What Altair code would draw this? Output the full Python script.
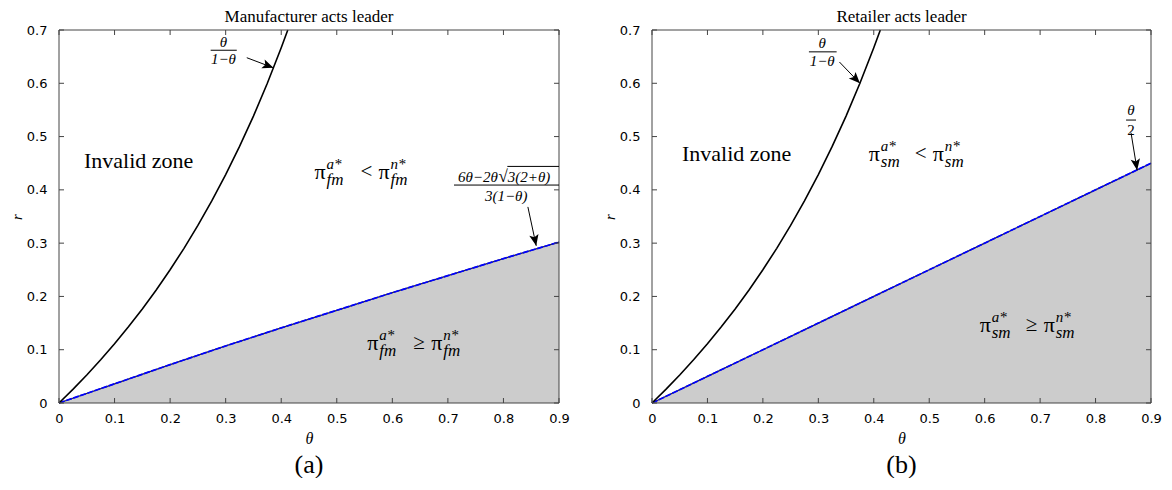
import math
import altair as alt
import pandas as pd

# ---------------- data ----------------
theta_curve = [0, 0.025, 0.05, 0.075, 0.10, 0.125, 0.15, 0.175, 0.20, 0.225, 0.25,
               0.275, 0.30, 0.325, 0.35, 0.375, 0.40, 0.4118]
r_curve = [0, 0.0256, 0.0526, 0.0811, 0.1111, 0.1429, 0.1765, 0.2121, 0.25, 0.2903,
           0.3333, 0.3793, 0.4286, 0.4815, 0.5385, 0.60, 0.6667, 0.70]

theta_line = [0, 0.1, 0.2, 0.3, 0.4, 0.5, 0.6, 0.7, 0.8, 0.9]
r_fm = [0, 0.036, 0.072, 0.107, 0.141, 0.174, 0.207, 0.239, 0.271, 0.302]
r_sm = [0, 0.05, 0.10, 0.15, 0.20, 0.25, 0.30, 0.35, 0.40, 0.45]

x_ticks = [0, 0.1, 0.2, 0.3, 0.4, 0.5, 0.6, 0.7, 0.8, 0.9]
y_ticks = [0, 0.1, 0.2, 0.3, 0.4, 0.5, 0.6, 0.7]

titles = ["Manufacturer acts leader", "Retailer acts leader"]
panel_labels = ["(a)", "(b)"]
subs = ["fm", "sm"]

# ---------------- layout ----------------
H = 373
WIDTHS = [500, 499]
XMAX, YMAX = 0.9, 0.7
SERIF = "Liberation Serif"
SANS = "DejaVu Sans"
FRAME = "#444444"

# annotation anchors (data coordinates)
ANN = [
    dict(invalid=(0.045, 0.455), top=(0.46, 0.434), bottom=(0.555, 0.113),
         frac=dict(cx=0.296, num=0.678, bar=0.662, den=0.645, x1=0.273, x2=0.320),
         arrow1=(0.338, 0.648, 0.386, 0.629),
         arrow2=(0.844, 0.368, 0.859, 0.295)),
    dict(invalid=(0.054, 0.468), top=(0.391, 0.468), bottom=(0.591, 0.146),
         frac=dict(cx=0.307, num=0.675, bar=0.659, den=0.642, x1=0.283, x2=0.333),
         arrow1=(0.338, 0.640, 0.375, 0.600),
         arrow2=(0.864, 0.507, 0.875, 0.437)),
]

ARROW_PATH = "M0,0L-0.42,1L0,0.78L0.42,1Z"


def panel(i):
    W = WIDTHS[i]
    r_line = r_fm if i == 0 else r_sm
    sub = subs[i]
    ann = ANN[i]

    xscale = alt.Scale(domain=[0, XMAX], nice=False, zero=False)
    yscale = alt.Scale(domain=[0, YMAX], nice=False, zero=False)
    xaxis = alt.Axis(values=x_ticks, format=".1~f", grid=False, ticks=False, domain=False,
                     labelFont=SANS, labelFontSize=13, labelColor="black", labelPadding=9,
                     labelFlush=False, title="θ", titleFont=SERIF, titleFontStyle="italic",
                     titleFontWeight="normal", titleFontSize=16, titleColor="black",
                     titlePadding=5)
    yaxis = alt.Axis(values=y_ticks, format=".1~f", grid=False, ticks=False, domain=False,
                     labelFont=SANS, labelFontSize=13, labelColor="black", labelPadding=12,
                     labelFlush=False, title="r", titleFont=SERIF, titleFontStyle="italic",
                     titleFontWeight="normal", titleFontSize=15, titleColor="black",
                     titlePadding=2)

    def X(f):
        return alt.X(f, type="quantitative", scale=xscale, axis=xaxis)

    def Y(f):
        return alt.Y(f, type="quantitative", scale=yscale, axis=yaxis)

    one = pd.DataFrame({"a": [0]})
    layers = []

    line_df = pd.DataFrame({"theta": theta_line, "r": r_line})
    curve_df = pd.DataFrame({"theta": theta_curve, "r": r_curve})

    layers.append(alt.Chart(line_df).mark_area(color="#cccccc", opacity=1)
                  .encode(x=X("theta"), y=Y("r")))
    layers.append(alt.Chart(line_df).mark_line(color="#222244", strokeWidth=1.3)
                  .encode(x=X("theta"), y=Y("r")))
    layers.append(alt.Chart(line_df).mark_line(color="#0000ff", strokeWidth=1.7, strokeDash=[6, 1.5])
                  .encode(x=X("theta"), y=Y("r")))
    layers.append(alt.Chart(curve_df).mark_line(color="black", strokeWidth=1.6)
                  .encode(x=X("theta"), y=Y("r")))

    # inward ticks
    xt = pd.DataFrame({"t": x_ticks})
    yt = pd.DataFrame({"t": y_ticks})
    tick = dict(color=FRAME, strokeWidth=1)
    layers.append(alt.Chart(xt).mark_rule(**tick).encode(x=X("t"), y=alt.value(0), y2=alt.value(5)))
    layers.append(alt.Chart(xt).mark_rule(**tick).encode(x=X("t"), y=alt.value(H), y2=alt.value(H - 5)))
    layers.append(alt.Chart(yt).mark_rule(**tick).encode(y=Y("t"), x=alt.value(0), x2=alt.value(5)))
    layers.append(alt.Chart(yt).mark_rule(**tick).encode(y=Y("t"), x=alt.value(W), x2=alt.value(W - 5)))
    # frame
    layers.append(alt.Chart(one).mark_rule(**tick).encode(x=alt.value(0), x2=alt.value(W), y=alt.value(0)))
    layers.append(alt.Chart(one).mark_rule(**tick).encode(x=alt.value(0), x2=alt.value(W), y=alt.value(H)))
    layers.append(alt.Chart(one).mark_rule(**tick).encode(x=alt.value(0), y=alt.value(0), y2=alt.value(H)))
    layers.append(alt.Chart(one).mark_rule(**tick).encode(x=alt.value(W), y=alt.value(0), y2=alt.value(H)))

    def pt(x, y):
        return pd.DataFrame({"x": [x], "y": [y]})

    def txt(x, y, s, size, style="normal", align="left", dx=0, dy=0):
        return (alt.Chart(pt(x, y))
                .mark_text(align=align, baseline="middle", font=SERIF, fontSize=size,
                           fontStyle=style, color="black", dx=dx, dy=dy)
                .encode(x=X("x"), y=Y("y"), text=alt.value(s)))

    # Invalid zone
    layers.append(txt(*ann["invalid"], "Invalid zone", 22))

    # pi expressions
    def pi_expr(pos, rel):
        x, y = pos
        out = []
        pieces = [("π", 0, 0, 22, "normal"), ("a*", 12, -8, 15, "italic"),
                  (sub, 12, 8, 17, "italic"), (rel, 46, 0, 21, "normal"),
                  ("π", 64, 0, 22, "normal"), ("n*", 76, -8, 15, "italic"),
                  (sub, 76, 8, 17, "italic")]
        for s, dx, dy, size, style in pieces:
            out.append(txt(x, y, s, size, style, dx=dx, dy=dy))
        return out

    layers += pi_expr(ann["top"], "<")
    layers += pi_expr(ann["bottom"], "≥")

    # fraction theta/(1-theta)
    f = ann["frac"]
    layers.append(txt(f["cx"], f["num"], "θ", 15, "italic", align="center"))
    layers.append(txt(f["cx"], f["den"], "1−θ", 15, "italic", align="center"))
    layers.append(alt.Chart(pd.DataFrame({"x": [f["x1"]], "x2": [f["x2"]], "y": [f["bar"]]}))
                  .mark_rule(color="black", strokeWidth=1)
                  .encode(x=X("x"), x2="x2", y=Y("y")))

    if i == 0:
        # (6θ−2θ√(3(2+θ)))/(3(1−θ))
        layers.append(txt(0.806, 0.424, "6θ−2θ", 15, "italic", align="right", dx=-9))
        layers.append(txt(0.806, 0.424, "√", 17, "normal", align="right", dx=1))
        layers.append(txt(0.806, 0.424, "3(2+θ)", 15, "italic", align="left", dx=1))
        layers.append(alt.Chart(pd.DataFrame({"x": [0.807], "x2": [0.9], "y": [0.444]}))
                      .mark_rule(color="black", strokeWidth=1)
                      .encode(x=X("x"), x2="x2", y=Y("y")))
        layers.append(alt.Chart(pd.DataFrame({"x": [0.711], "x2": [0.9], "y": [0.409]}))
                      .mark_rule(color="black", strokeWidth=1)
                      .encode(x=X("x"), x2="x2", y=Y("y")))
        layers.append(txt(0.805, 0.389, "3(1−θ)", 15, "italic", align="center"))
    else:
        layers.append(txt(0.864, 0.549, "θ", 15, "italic", align="center"))
        layers.append(txt(0.864, 0.512, "2", 15, "normal", align="center"))
        layers.append(alt.Chart(pd.DataFrame({"x": [0.855], "x2": [0.873], "y": [0.531]}))
                      .mark_rule(color="black", strokeWidth=1)
                      .encode(x=X("x"), x2="x2", y=Y("y")))

    # arrows
    for key in ("arrow1", "arrow2"):
        x1, y1, x2, y2 = ann[key]
        dxp = (x2 - x1) * W / XMAX
        dys = -(y2 - y1) * H / YMAX
        ang = math.degrees(math.atan2(dxp, -dys)) % 360
        adf = pd.DataFrame({"x": [x1], "y": [y1], "x2": [x2], "y2": [y2]})
        layers.append(alt.Chart(adf).mark_rule(color="black", strokeWidth=1)
                      .encode(x=X("x"), y=Y("y"), x2="x2", y2="y2"))
        layers.append(alt.Chart(pt(x2, y2))
                      .mark_point(shape=ARROW_PATH, size=500, filled=True, color="black",
                                  opacity=1, angle=ang)
                      .encode(x=X("x"), y=Y("y")))

    # panel label
    layers.append(alt.Chart(one).mark_text(font=SERIF, fontSize=26, color="black",
                                           align="center", baseline="middle")
                  .encode(x=alt.value(W / 2), y=alt.value(H + 62), text=alt.value(panel_labels[i])))

    return alt.layer(*layers).properties(
        width=W, height=H,
        title=alt.TitleParams(titles[i], font=SERIF, fontSize=17, fontWeight="normal",
                              color="black", anchor="middle", offset=-2))


chart = (alt.hconcat(panel(0), panel(1), spacing=32)
         .properties(padding={"left": 1, "top": 0, "right": 0, "bottom": 0})
         .configure_view(stroke=None))

chart.save("out.html", embed_options={"renderer": "svg", "actions": False})
